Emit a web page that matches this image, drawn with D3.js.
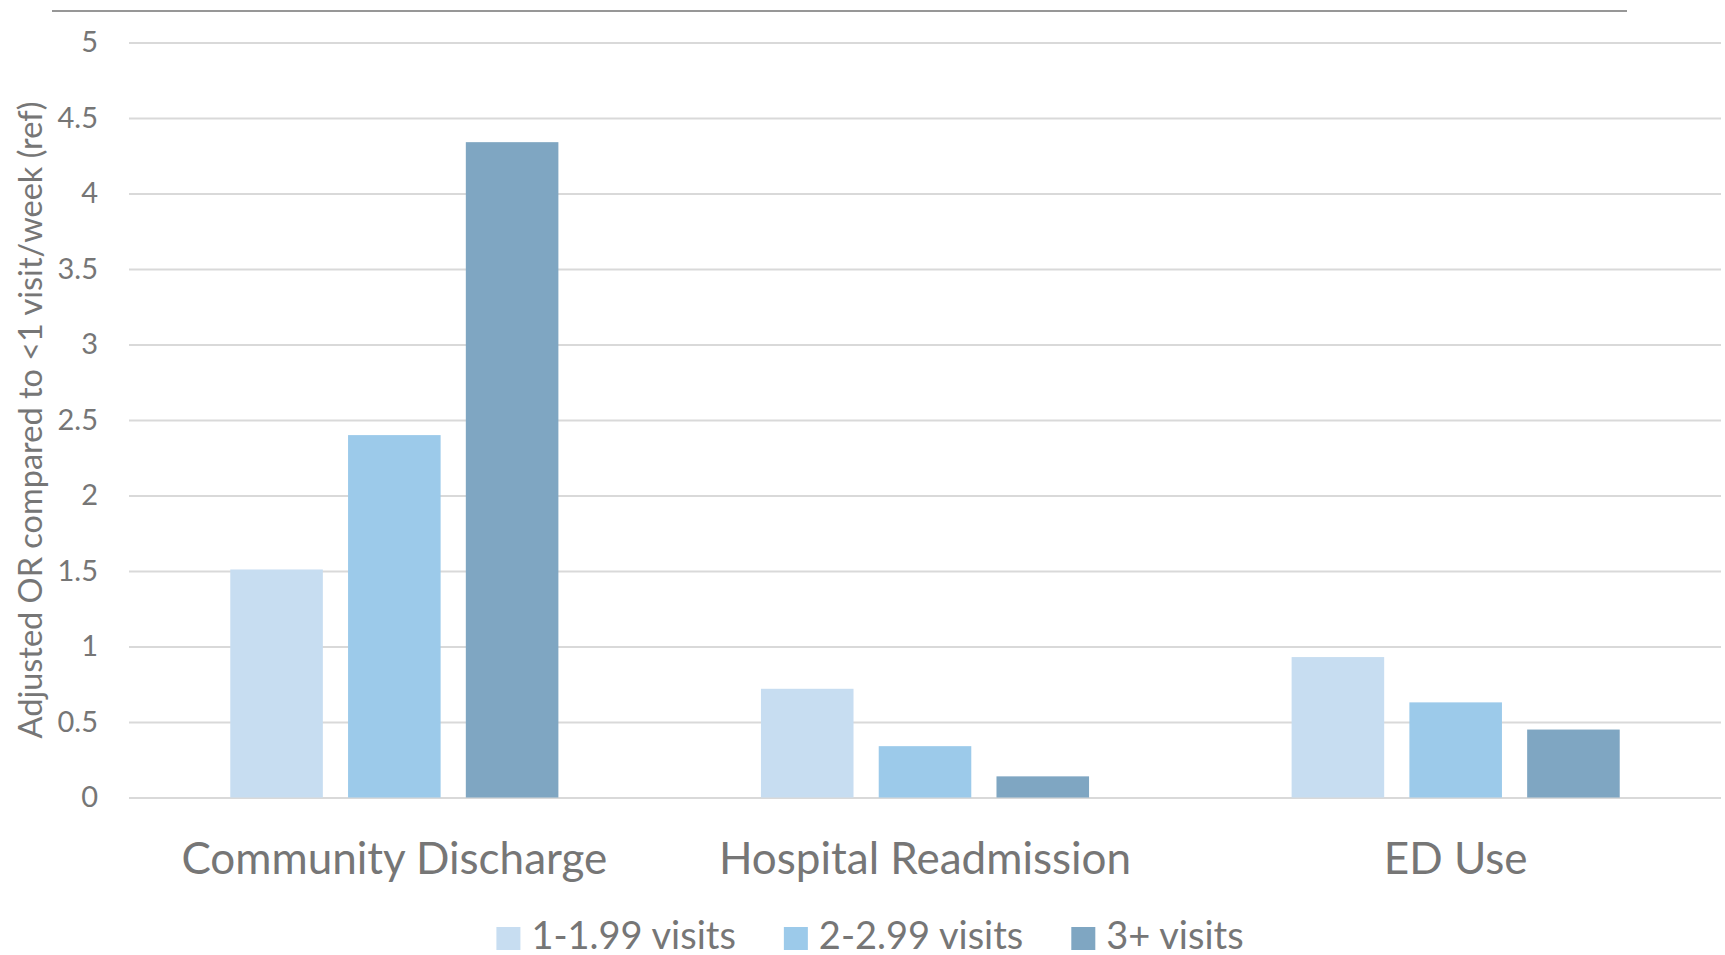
<!DOCTYPE html>
<html>
<head>
<meta charset="utf-8">
<script src="https://cdn.jsdelivr.net/npm/d3@7"></script>
<style>
  html, body { margin: 0; padding: 0; background: #ffffff; }
  svg { display: block; }
  text { font-family: Lato, "Open Sans", sans-serif; fill: #767676; }
</style>
</head>
<body>
<svg id="chart" width="1725" height="955"></svg>
<script>
// Outcomes on the x axis, visit-frequency groups as the bars within each outcome
const outcomes = ["Community Discharge", "Hospital Readmission", "ED Use"];
const visitGroups = ["1-1.99 visits", "2-2.99 visits", "3+ visits"];
const seriesColors = ["#c7ddf1", "#9ccaea", "#7fa6c2"];

// Adjusted odds ratios, one array per visit group (in outcome order)
const visits1to199 = [1.51, 0.72, 0.93];
const visits2to299 = [2.40, 0.34, 0.63];
const visits3plus  = [4.34, 0.14, 0.45];
const seriesValues = [visits1to199, visits2to299, visits3plus];

const yTicks = [0, 0.5, 1, 1.5, 2, 2.5, 3, 3.5, 4, 4.5, 5];
const yTitle = "Adjusted OR compared to <1 visit/week (ref)";

const svg = d3.select("#chart");

const plot = { left: 129, right: 1721, top: 42.5, bottom: 797.5 };

const y = d3.scaleLinear().domain([0, 5]).range([plot.bottom, plot.top]);
const x0 = d3.scaleBand().domain(outcomes).range([plot.left, plot.right])
  .paddingInner(0).paddingOuter(0);
const x1 = d3.scaleBand().domain(visitGroups).range([0, x0.bandwidth()])
  .paddingInner(0.214).paddingOuter(0.86);

// Thin rule across the top
svg.append("line")
  .attr("x1", 52).attr("x2", 1627)
  .attr("y1", 11).attr("y2", 11)
  .attr("stroke", "#979797").attr("stroke-width", 2);

// Horizontal gridlines with value labels
const yAxis = d3.axisLeft(y)
  .tickValues(yTicks)
  .tickFormat(d3.format("~g"))
  .tickSizeInner(-(plot.right - plot.left))
  .tickSizeOuter(0)
  .tickPadding(31);

const gy = svg.append("g")
  .attr("transform", `translate(${plot.left},0)`)
  .call(yAxis);
gy.select(".domain").remove();
gy.selectAll(".tick line").attr("stroke", "#d9d9d9").attr("stroke-width", 2);
gy.selectAll(".tick text")
  .attr("font-size", 29)
  .attr("fill", "#767676")
  .style("font-family", "Lato, 'Open Sans', sans-serif");

// Bars
const groups = svg.append("g").selectAll("g")
  .data(outcomes)
  .join("g")
  .attr("transform", d => `translate(${x0(d)},0)`);

groups.selectAll("rect")
  .data((d, i) => visitGroups.map((g, s) => ({ group: g, s, value: seriesValues[s][i] })))
  .join("rect")
  .attr("x", d => x1(d.group))
  .attr("width", x1.bandwidth())
  .attr("y", d => y(d.value))
  .attr("height", d => y(0) - y(d.value))
  .attr("fill", d => seriesColors[d.s]);

// Category labels
const xAxis = d3.axisBottom(x0).tickSize(0).tickPadding(0);
const gx = svg.append("g")
  .attr("transform", `translate(0,${plot.bottom})`)
  .call(xAxis);
gx.select(".domain").remove();
gx.selectAll(".tick text")
  .attr("y", 76)
  .attr("dy", 0)
  .attr("font-size", 44)
  .attr("fill", "#767676")
  .style("font-family", "Lato, 'Open Sans', sans-serif");

// Y axis title
svg.append("text")
  .attr("transform", `translate(42,${(plot.top + plot.bottom) / 2}) rotate(-90)`)
  .attr("text-anchor", "middle")
  .attr("font-size", 32.5)
  .text(yTitle);

// Legend
const legend = svg.append("g");
const items = legend.selectAll("g")
  .data(visitGroups)
  .join("g");
items.append("rect")
  .attr("width", 24).attr("height", 23)
  .attr("y", 927)
  .attr("fill", (d, i) => seriesColors[i]);
items.append("text")
  .attr("x", 35)
  .attr("y", 949)
  .attr("font-size", 38)
  .text(d => d);

let cursor = 0;
const offsets = [];
items.each(function () {
  offsets.push(cursor);
  const w = d3.select(this).select("text").node().getComputedTextLength();
  cursor += 35 + w + 48;
});
const totalWidth = cursor - 48;
const legendStart = 870 - totalWidth / 2;
items.attr("transform", (d, i) => `translate(${legendStart + offsets[i]},0)`);
</script>
</body>
</html>
